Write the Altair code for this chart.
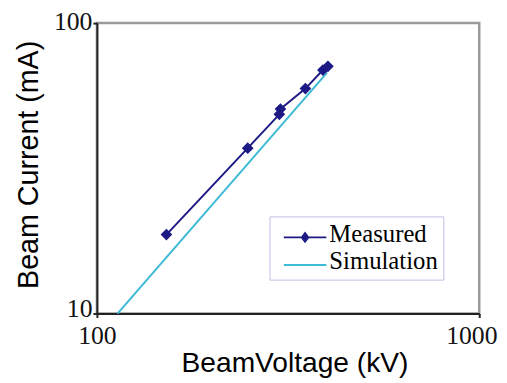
import altair as alt
import pandas as pd

# Measured data (beam voltage kV, beam current mA)
meas_voltage = [152, 248, 300, 302, 351, 390, 402]
meas_current = [18.7, 37.1, 48.5, 50.6, 59.5, 68.9, 71.0]

# Simulation (straight line on log-log)
sim_voltage = [113.2, 400]
sim_current = [10.0, 67.5]

series_names = ["Measured", "Simulation"]
series_colors = ["#1e1a85", "#3dbad6"]

x_ticks = [100, 1000]
y_ticks = [10, 100]

meas = pd.DataFrame({"voltage": meas_voltage, "current": meas_current, "series": "Measured"})
sim = pd.DataFrame({"voltage": sim_voltage, "current": sim_current, "series": "Simulation"})

x_enc = alt.X(
    "voltage:Q",
    scale=alt.Scale(type="log", domain=[100, 1000]),
    axis=alt.Axis(
        values=x_ticks, format="d", title="BeamVoltage (kV)", grid=False,
        labelFont="Liberation Serif", labelFontSize=26, labelColor="#111111",
        labelFlush=False,
        labelPadding=5, tickSize=4, tickColor="#222222", tickWidth=2,
        domainColor="#222222", domainWidth=2,
        labelOffset={"condition": {"test": "datum.value >= 1000", "value": -8}, "value": 0},
        titleFont="Liberation Sans", titleFontSize=28.5, titleFontWeight="normal",
        titleColor="#000000", titleX=200, titleY=59, titleBaseline="alphabetic",
    ),
)
y_enc = alt.Y(
    "current:Q",
    scale=alt.Scale(type="log", domain=[10, 100]),
    axis=alt.Axis(
        values=y_ticks, format="d", title="Beam Current (mA)", grid=False,
        labelFont="Liberation Serif", labelFontSize=26, labelColor="#111111",
        labelFlush=False,
        labelPadding=1, tickSize=4, tickColor="#222222", tickWidth=2,
        labelOffset={"condition": {"test": "datum.value >= 100", "value": -2}, "value": -5},
        domainColor="#222222", domainWidth=2,
        titleFont="Liberation Sans", titleFontSize=29, titleFontWeight="normal",
        titleColor="#000000", titleX=-60, titleY=143, titleBaseline="alphabetic",
    ),
)

meas_line = alt.Chart(meas).mark_line(color=series_colors[0], strokeWidth=2).encode(
    x=x_enc, y=y_enc
)
meas_pts = alt.Chart(meas).mark_point(
    shape="diamond", filled=True, size=140, color=series_colors[0], opacity=1
).encode(x=x_enc, y=y_enc)
sim_line = alt.Chart(sim).mark_line(color=series_colors[1], strokeWidth=2).encode(
    x=x_enc, y=y_enc
)

legend_paths = [
    "M-0.5,0.45L6.67,0.45L6.67,0.78L-0.5,0.78Z M3.08,-0.38L3.83,0.62L3.08,1.62L2.33,0.62Z",
    "M-0.5,0.45L6.67,0.45L6.67,0.78L-0.5,0.78Z",
]
leg = alt.Legend(
    title=None, orient="none", legendX=174.7, legendY=195.7,
    strokeColor="#c4bce6", fillColor="white", padding=5,
    labelFont="Liberation Serif", labelFontSize=25, labelColor="#000000",
    symbolSize=144, symbolStrokeWidth=0, symbolOffset=0, labelOffset=30.6,
    symbolOpacity=1, rowPadding=2,
)
legend_layer = alt.Chart(meas).mark_point(filled=True, opacity=0).encode(
    x=x_enc, y=y_enc,
    color=alt.Color("series:N", scale=alt.Scale(domain=series_names, range=series_colors), legend=leg),
    shape=alt.Shape("series:N", scale=alt.Scale(domain=series_names, range=legend_paths), legend=leg),
)

chart = (
    alt.layer(sim_line, meas_line, meas_pts, legend_layer)
    .properties(
        width=387, height=294,
        autosize=alt.AutoSizeParams(type="none"),
        padding={"left": 90, "top": 13, "right": 20, "bottom": 66},
    )
    .configure_view(stroke="#9a9a9a", strokeWidth=2.5)
)

chart.save("out.html", embed_options={"renderer": "svg", "actions": False})
